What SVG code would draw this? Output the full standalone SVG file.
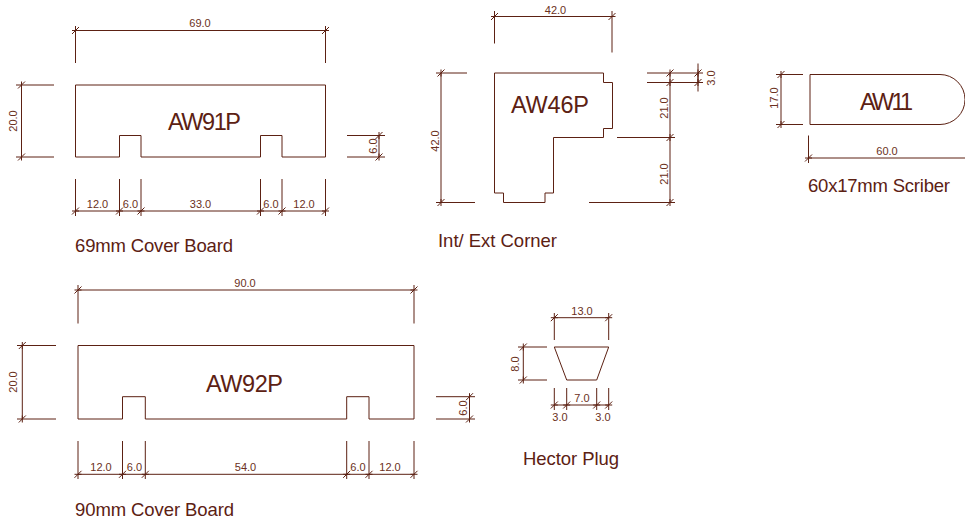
<svg xmlns="http://www.w3.org/2000/svg" width="965" height="525" viewBox="0 0 965 525">
<style>
.o,.e,.h,.v{fill:none;stroke:#5c2113;stroke-width:1}
.h{marker-start:url(#th);marker-mid:url(#th);marker-end:url(#th)}
.v{marker-start:url(#tv);marker-mid:url(#tv);marker-end:url(#tv)}
text{font-family:"Liberation Sans",Arial,sans-serif;fill:#5c2113}
.d{font-size:11px;text-anchor:middle;fill:#6b3021}
.n{font-size:23.5px;text-anchor:middle}
.c{font-size:18.5px}
</style>
<defs>
<marker id="th" markerUnits="userSpaceOnUse" markerWidth="12" markerHeight="12" refX="6" refY="6" overflow="visible"><path d="M2.5 9.5L9.5 2.5M2.5 6H9.5" fill="none" stroke="#5c2113"/></marker>
<marker id="tv" markerUnits="userSpaceOnUse" markerWidth="12" markerHeight="12" refX="6" refY="6" overflow="visible"><path d="M2.5 9.5L9.5 2.5M6 2.5V9.5" fill="none" stroke="#5c2113"/></marker>
</defs>
<g id="connectors">
<path class="h" d="M75.5 30.5H325.5"/>
<path class="e" d="M75.5 26V63M325.5 26V63M16 85H54M16 157H54M347 135.5H385M347 157H385M75.5 179V216M119.5 179V216M141 179V216M260.5 179V216M282 179V216M325.5 179V216"/>
<path class="v" d="M21.5 85V157"/><path class="v" d="M379 135.5V157"/>
<path class="h" d="M75.5 211H119.5H141H260.5H282H325.5"/>
<path class="h" d="M494.5 16.5H612"/>
<path class="e" d="M494.5 11V43.5M612 11V52.5M436 73H467M436 202.5H475M647 73H703M647 82.5H703M617 137.5H675M589 202.5H675"/>
<path class="v" d="M441 73V202.5"/>
<path class="v" d="M670 73V82.5V137.5V202.5"/>
<path class="v" d="M698 73V82.5"/>
<path class="e" d="M698 63.5V91.5"/>
<path class="v" d="M781 74.5V124.5"/>
<path class="e" d="M776 74.5H803M776 124.5H803M808.5 135.5V163"/>
<path class="h" d="M808.5 158H970"/>
<path class="h" d="M78 290H414"/>
<path class="e" d="M78 285V323.5M414 285V323.5M17 345.5H56M17 419H56M436 396.7H475M436 419H475M78 441V479M122.5 441V479M145.3 441V479M346.7 441V479M369 441V479M414 441V479"/>
<path class="v" d="M22.3 345.5V419"/><path class="v" d="M469.5 396.7V419"/>
<path class="h" d="M78 474.3H122.5H145.3H346.7H369H414"/>
<path class="h" d="M554.3 317.7H608.7"/>
<path class="e" d="M554.3 313V340M608.7 313V340M518 347H547M518 380H547M554.3 388V410M566.7 388V410M596.7 388V410M608.7 388V410"/>
<path class="v" d="M523.3 347V380"/>
<path class="h" d="M554.3 405H566.7H596.7H608.7"/>
</g>
<g id="AW91P">
<path class="o" d="M75.5 85H325.5V157H282V135.5H260.5V157H141V135.5H119.5V157H75.5Z"/>
<text class="n" x="204.500" y="129.500" textLength="73">AW91P</text>
<text class="d" x="200" y="27">69.0</text>
<text class="d" transform="translate(17,121) rotate(-90)">20.0</text>
<text class="d" transform="translate(377,146) rotate(-90)">6.0</text>
<text class="d" x="97.5" y="208">12.0</text><text class="d" x="130.5" y="208">6.0</text><text class="d" x="200.5" y="208">33.0</text><text class="d" x="271" y="208">6.0</text><text class="d" x="304" y="208">12.0</text>
<text class="c" x="75" y="252" textLength="158">69mm Cover Board</text>
</g>
<g id="AW46P">
<path class="o" d="M494.5 73H603.5V82.5H612.5V128.5H603.5V137.5H553.5V193H545V202.5H503.5V193H494.5Z"/>
<text class="n" x="550" y="113" textLength="78">AW46P</text>
<text class="d" x="555.500" y="13.500">42.0</text>
<text class="d" transform="translate(439,141) rotate(-90)">42.0</text>
<text class="d" transform="translate(668,108) rotate(-90)">21.0</text>
<text class="d" transform="translate(668,174) rotate(-90)">21.0</text>
<text class="d" transform="translate(715,78) rotate(-90)">3.0</text>
<text class="c" x="438" y="247" textLength="119">Int/ Ext Corner</text>
</g>
<g id="AW11">
<path class="o" d="M810 74.5H940A25 25 0 0 1 940 124.5H810Z"/>
<text class="n" x="886.500" y="110" textLength="53">AW11</text>
<text class="d" transform="translate(778,98) rotate(-90)">17.0</text>
<text class="d" x="887" y="155">60.0</text>
<text class="c" x="808" y="192" textLength="142">60x17mm Scriber</text>
</g>
<g id="AW92P">
<path class="o" d="M78 345.5H414V419H369V396.7H346.7V419H145.3V396.7H122.5V419H78Z"/>
<text class="n" x="244.500" y="392" textLength="77">AW92P</text>
<text class="d" x="245" y="287">90.0</text>
<text class="d" transform="translate(17,382) rotate(-90)">20.0</text>
<text class="d" transform="translate(467,408) rotate(-90)">6.0</text>
<text class="d" x="101" y="471">12.0</text><text class="d" x="134.5" y="471">6.0</text><text class="d" x="245.5" y="471">54.0</text><text class="d" x="358" y="471">6.0</text><text class="d" x="390" y="471">12.0</text>
<text class="c" x="75" y="516" textLength="159">90mm Cover Board</text>
</g>
<g id="HectorPlug">
<path class="o" d="M554.3 347H608.7L596.7 380H566.7Z"/>
<text class="d" x="582" y="315">13.0</text>
<text class="d" transform="translate(519,364) rotate(-90)">8.0</text>
<text class="d" x="582" y="402">7.0</text>
<text class="d" x="560" y="421">3.0</text><text class="d" x="603" y="421">3.0</text>
<text class="c" x="523" y="465" textLength="96">Hector Plug</text>
</g>
</svg>
